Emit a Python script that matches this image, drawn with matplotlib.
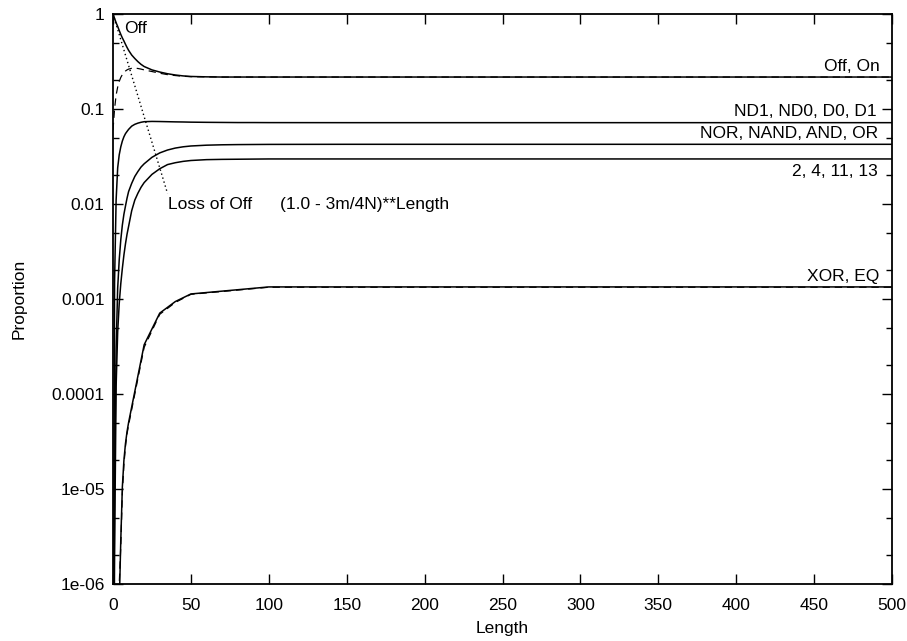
import numpy as np
import matplotlib
matplotlib.use("Agg")
import matplotlib.pyplot as plt
from matplotlib.ticker import LogLocator, NullFormatter

plt.rcParams['font.family'] = ['Liberation Sans', 'DejaVu Sans']

# lengths sampled for the smooth curves
length = [0, 1, 2, 3, 4, 5, 6, 7, 8, 9, 10, 12, 14, 16, 18, 20, 25, 30, 35, 40, 45, 50,
          60, 70, 80, 90, 100, 150, 200, 250, 300, 350, 400, 450, 500]

off_p = [1.0, 0.90, 0.81, 0.74, 0.67, 0.61, 0.56, 0.52, 0.48, 0.445, 0.415, 0.37, 0.34, 0.315,
         0.295, 0.28, 0.258, 0.245, 0.235, 0.228, 0.223, 0.220, 0.218, 0.217, 0.217, 0.217,
         0.217, 0.217, 0.217, 0.217, 0.217, 0.217, 0.217, 0.217, 0.217]
on_p = [0.06, 0.10, 0.14, 0.17, 0.195, 0.215, 0.23, 0.242, 0.251, 0.258, 0.263, 0.268, 0.269,
        0.267, 0.263, 0.258, 0.248, 0.238, 0.23, 0.225, 0.221, 0.219, 0.218, 0.217, 0.217, 0.217,
        0.217, 0.217, 0.217, 0.217, 0.217, 0.217, 0.217, 0.217, 0.217]
nd_p = [1e-9, 0.0015, 0.011, 0.024, 0.033, 0.040, 0.046, 0.051, 0.055, 0.058, 0.061, 0.066,
        0.069, 0.071, 0.0725, 0.0735, 0.074, 0.0738, 0.0735, 0.0732, 0.073, 0.0727, 0.0724,
        0.0722, 0.072, 0.072, 0.0719, 0.0718, 0.0718, 0.0718, 0.0718, 0.0718, 0.0718, 0.0718, 0.0718]
nor_p = [1e-9, 1e-5, 3e-4, 1.3e-3, 2.6e-3, 4.2e-3, 6e-3, 7.8e-3, 9.5e-3, 0.0115, 0.0135, 0.0165,
         0.0195, 0.022, 0.0245, 0.0265, 0.031, 0.0345, 0.037, 0.0388, 0.040, 0.0408, 0.0416,
         0.042, 0.0422, 0.0423, 0.0424, 0.0425, 0.0425, 0.0425, 0.0425, 0.0425, 0.0425, 0.0425, 0.0425]
f2_p = [1e-9, 2e-6, 1.2e-4, 4.5e-4, 9e-4, 1.45e-3, 2.1e-3, 2.9e-3, 3.8e-3, 4.8e-3, 5.8e-3, 8.5e-3,
        0.011, 0.013, 0.015, 0.0168, 0.0205, 0.0235, 0.026, 0.0272, 0.0281, 0.0287, 0.0293,
        0.0295, 0.0296, 0.0297, 0.0298, 0.0298, 0.0298, 0.0298, 0.0298, 0.0298, 0.0298, 0.0298, 0.0298]

# XOR / EQ was sampled more coarsely
xor_len = [0, 1, 2, 3, 4, 5, 6, 7, 8, 9, 10, 20, 30, 40, 50, 100, 150, 200, 250, 300, 350, 400, 450, 500]
xor_p = [1e-9, 1e-9, 1e-9, 1e-9, 6e-7, 2.9e-6, 1.05e-5, 2e-5, 3e-5, 4e-5, 5e-5, 3.3e-4, 7.1e-4,
         9.4e-4, 1.13e-3, 1.34e-3, 1.34e-3, 1.34e-3, 1.34e-3, 1.34e-3, 1.34e-3, 1.34e-3, 1.34e-3, 1.34e-3]
xor_t = [1e-9, 1e-9, 1e-9, 1e-9, 1e-6, 2.5e-6, 9e-6, 1.8e-5, 2.8e-5, 3.8e-5, 4.7e-5, 3.1e-4, 6.9e-4,
         9.2e-4, 1.12e-3, 1.33e-3, 1.33e-3, 1.33e-3, 1.33e-3, 1.33e-3, 1.33e-3, 1.33e-3, 1.33e-3, 1.33e-3]

loss_x = [0, 5, 10, 15, 20, 25, 30, 35]
loss_y = [1.0, 0.537, 0.288, 0.155, 0.083, 0.0447, 0.024, 0.0129]

fig = plt.figure(figsize=(9.07, 6.41), dpi=100)
ax = fig.add_axes([113/907, 1-584/641, 779/907, 570/641])

lw = 1.1
ax.plot(length, off_p, color='black', lw=lw)
ax.plot(length, on_p, color='black', lw=lw*0.8, ls=(0, (6, 4)))
ax.plot(length, nd_p, color='black', lw=lw)
ax.plot(length, nor_p, color='black', lw=lw)
ax.plot(length, f2_p, color='black', lw=lw)
ax.plot(xor_len, xor_p, color='black', lw=lw)
ax.plot(xor_len, xor_t, color='black', lw=lw*0.8, ls=(0, (6, 4)))
ax.plot(loss_x, loss_y, color='black', lw=1.0, ls=(0, (1, 2)))

ax.set_yscale('log')
ax.set_xlim(0, 500)
ax.set_ylim(1e-6, 1)
ax.set_xticks(range(0, 501, 50))
ax.set_yticks([1e-6, 1e-5, 1e-4, 1e-3, 1e-2, 1e-1, 1])
ax.set_yticklabels(['1e-06', '1e-05', '0.0001', '0.001', '0.01', '0.1', '1'])
ax.yaxis.set_minor_locator(LogLocator(base=10, subs=(2.0, 5.0)))
ax.yaxis.set_minor_formatter(NullFormatter())

fs = 12.5
ax.tick_params(which='both', direction='in', top=True, right=True, labelsize=fs)
ax.tick_params(which='major', length=7, width=1.0)
ax.tick_params(axis='x', which='major', pad=10)
ax.tick_params(axis='y', which='major', pad=6)
ax.tick_params(which='minor', length=4, width=1.0)
for s in ax.spines.values():
    s.set_linewidth(1.3)

ax.set_xlabel('Length', fontsize=fs, labelpad=6)
ax.set_ylabel('Proportion', fontsize=fs, labelpad=18)

ax.text(492, 0.235, 'Off, On', ha='right', va='bottom', fontsize=fs)
ax.text(490, 0.078, 'ND1, ND0, D0, D1', ha='right', va='bottom', fontsize=fs)
ax.text(491, 0.0455, 'NOR, NAND, AND, OR', ha='right', va='bottom', fontsize=fs)
ax.text(491, 0.0265, '2, 4, 11, 13', ha='right', va='top', fontsize=fs)
ax.text(492, 0.00143, 'XOR, EQ', ha='right', va='bottom', fontsize=fs)
ax.text(7, 0.71, 'Off', ha='left', va='center', fontsize=fs)
ax.text(35.5, 0.0098, 'Loss of Off', ha='left', va='center', fontsize=fs)
ax.text(107, 0.0098, '(1.0 - 3m/4N)**Length', ha='left', va='center', fontsize=fs)

fig.savefig('out.png', dpi=100)
